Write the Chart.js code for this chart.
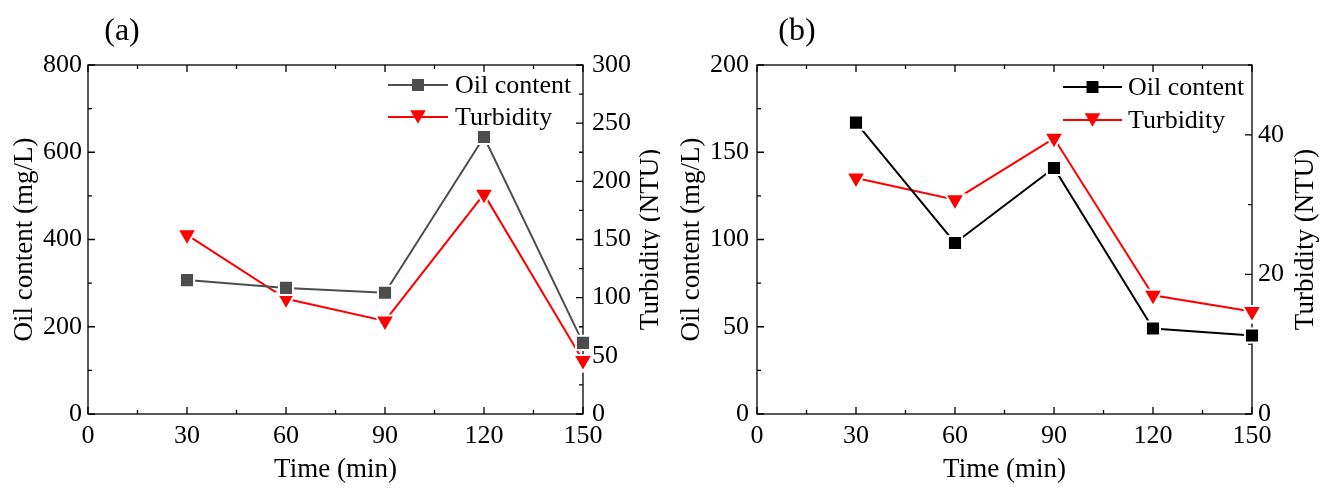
<!DOCTYPE html>
<html>
<head>
<meta charset="utf-8">
<script src="https://cdn.jsdelivr.net/npm/chart.js@4.4.0/dist/chart.umd.min.js"></script>
<style>
  html, body { margin: 0; padding: 0; background: #fff; }
  .row { display: flex; width: 1322px; height: 490px; }
  .panel { position: relative; height: 490px; }
  #panelA { width: 660px; }
  #panelB { width: 662px; }
</style>
</head>
<body>
<div class="row">
  <div class="panel" id="panelA"><canvas id="chartA"></canvas></div>
  <div class="panel" id="panelB"><canvas id="chartB"></canvas></div>
</div>
<script>
// sampling times (min)
const timeMin = [30, 60, 90, 120, 150];

// panel (a)
const oilA = [307, 289, 278, 635, 163];
const turbA = [154, 99, 80, 189, 46];

// panel (b)
const oilB = [167, 98, 141, 49, 45];
const turbB = [33.8, 30.7, 39.5, 17.0, 14.7];

// tick labels
const timeTicks = [0, 30, 60, 90, 120, 150];
const oilTicksA = [0, 200, 400, 600, 800];
const turbTicksA = [0, 50, 100, 150, 200, 250, 300];
const oilTicksB = [0, 50, 100, 150, 200];
const turbTicksB = [0, 20, 40];

const serif = "'Liberation Serif', 'Times New Roman', serif";
const RED = '#ff0000';

function eachTick(scale, step, fn) {
    for (let v = scale.min; v <= scale.max + 1e-9; v += step) {
        const major = scale.ticks.some(t => Math.abs(t.value - v) < 1e-9);
        fn(v, major);
    }
}

function verticalText(ctx, text, x, y) {
    ctx.save();
    ctx.translate(x, y);
    ctx.rotate(-Math.PI / 2);
    ctx.fillText(text, 0, 0);
    ctx.restore();
}

function drawMarker(ctx, ds, x, y) {
    ctx.fillStyle = ds.pointBackgroundColor;
    ctx.beginPath();
    if (ds.pointStyle === 'rect') {
        ctx.rect(x - 6, y - 6, 12, 12);
    } else {
        const h = 13.5, w = 15.6;
        ctx.moveTo(x - w / 2, y - h / 2);
        ctx.lineTo(x + w / 2, y - h / 2);
        ctx.lineTo(x, y + h / 2);
        ctx.closePath();
    }
    ctx.fill();
}

// frame, inward ticks, axis titles, panel tag and the inside legend
const panelDecor = {
    id: 'panelDecor',
    beforeDatasetsDraw(chart, args, o) {
        const {ctx, chartArea: a, scales} = chart;
        ctx.save();
        ctx.strokeStyle = '#000';
        ctx.lineWidth = 1.3;
        ctx.strokeRect(a.left, a.top, a.right - a.left, a.bottom - a.top);
        ctx.beginPath();
        eachTick(scales.x, o.xMinor, (v, major) => {
            const p = scales.x.getPixelForValue(v);
            const l = major ? 7 : 4;
            ctx.moveTo(p, a.bottom); ctx.lineTo(p, a.bottom - l);
            ctx.moveTo(p, a.top); ctx.lineTo(p, a.top + l);
        });
        eachTick(scales.y, o.yMinor, (v, major) => {
            const p = scales.y.getPixelForValue(v);
            ctx.moveTo(a.left, p); ctx.lineTo(a.left + (major ? 7 : 4), p);
        });
        eachTick(scales.y1, o.y1Minor, (v, major) => {
            const p = scales.y1.getPixelForValue(v);
            ctx.moveTo(a.right, p); ctx.lineTo(a.right - (major ? 7 : 4), p);
        });
        ctx.stroke();
        ctx.restore();
    },
    afterDraw(chart, args, o) {
        const {ctx, chartArea: a} = chart;
        const midY = (a.top + a.bottom) / 2;
        ctx.save();
        ctx.fillStyle = '#000';
        ctx.textAlign = 'center';
        ctx.textBaseline = 'middle';
        ctx.font = `27px ${serif}`;
        ctx.fillText(o.xTitle, (a.left + a.right) / 2, o.xTitleY);
        verticalText(ctx, o.yTitle, o.yTitleX, midY);
        verticalText(ctx, o.y1Title, o.y1TitleX, midY);

        ctx.font = `32px ${serif}`;
        ctx.fillText(o.tag, o.tagX, o.tagY);

        const lg = o.legend;
        ctx.font = `26px ${serif}`;
        ctx.textAlign = 'left';
        chart.data.datasets.forEach((ds, i) => {
            const y = lg.y[i];
            ctx.strokeStyle = ds.borderColor;
            ctx.lineWidth = ds.borderWidth;
            ctx.beginPath();
            ctx.moveTo(lg.x0, y);
            ctx.lineTo(lg.x1, y);
            ctx.stroke();
            drawMarker(ctx, ds, (lg.x0 + lg.x1) / 2, y);
            ctx.fillStyle = '#000';
            ctx.fillText(ds.label, lg.textX, y + 1);
        });
        ctx.restore();
    }
};

function series(label, ys, color, style, axis) {
    const tri = style === 'triangle';
    return {
        label: label,
        data: timeMin.map((t, i) => ({x: t, y: ys[i]})),
        yAxisID: axis,
        borderColor: color,
        backgroundColor: color,
        borderWidth: 2,
        tension: 0,
        pointStyle: style,
        pointRotation: tri ? 180 : 0,
        pointRadius: tri ? 11 : 10,
        pointBackgroundColor: color,
        pointBorderColor: '#fff',
        pointBorderWidth: 2,
        clip: false
    };
}

function fixedTicks(values) {
    return scale => { scale.ticks = values.map(v => ({value: v})); };
}

function makePanel(id, cfg) {
    const tickFont = {family: serif, size: 26};
    return new Chart(document.getElementById(id), {
        type: 'line',
        data: {
            datasets: [
                series('Oil content', cfg.oil, cfg.oilColor, 'rect', 'y'),
                series('Turbidity', cfg.turb, RED, 'triangle', 'y1')
            ]
        },
        options: {
            responsive: true,
            maintainAspectRatio: false,
            animation: false,
            events: [],
            layout: {padding: {top: 65, left: 0, right: 0, bottom: 0}},
            plugins: {
                legend: {display: false},
                tooltip: {enabled: false},
                panelDecor: cfg.decor
            },
            scales: {
                x: {
                    type: 'linear',
                    min: 0, max: 150,
                    afterBuildTicks: fixedTicks(timeTicks),
                    afterFit: s => { s.height = 76; },
                    grid: {display: false, drawTicks: false},
                    border: {display: false},
                    ticks: {font: tickFont, color: '#000', padding: 7, autoSkip: false, maxRotation: 0}
                },
                y: {
                    position: 'left',
                    min: 0, max: cfg.oilMax,
                    afterBuildTicks: fixedTicks(cfg.oilTicks),
                    afterFit: s => { s.width = cfg.left; },
                    grid: {display: false, drawTicks: false},
                    border: {display: false},
                    ticks: {font: tickFont, color: '#000', padding: cfg.leftPad}
                },
                y1: {
                    position: 'right',
                    min: 0, max: cfg.turbMax,
                    afterBuildTicks: fixedTicks(cfg.turbTicks),
                    afterFit: s => { s.width = cfg.right; },
                    grid: {display: false, drawTicks: false},
                    border: {display: false},
                    ticks: {font: tickFont, color: '#000', padding: cfg.rightPad}
                }
            }
        },
        plugins: [panelDecor]
    });
}

makePanel('chartA', {
    oil: oilA, turb: turbA, oilColor: '#4d4d4d',
    oilMax: 800, turbMax: 300,
    oilTicks: oilTicksA, turbTicks: turbTicksA,
    left: 88, right: 77, leftPad: 6, rightPad: 9,
    decor: {
        xMinor: 15, yMinor: 100, y1Minor: 25,
        xTitle: 'Time (min)', xTitleY: 470,
        yTitle: 'Oil content (mg/L)', yTitleX: 25,
        y1Title: 'Turbidity (NTU)', y1TitleX: 651,
        tag: '(a)', tagX: 122, tagY: 32,
        legend: {x0: 388, x1: 448, textX: 455, y: [85, 117]}
    }
});

makePanel('chartB', {
    oil: oilB, turb: turbB, oilColor: '#000000',
    oilMax: 200, turbMax: 50,
    oilTicks: oilTicksB, turbTicks: turbTicksB,
    left: 97, right: 70, leftPad: 8, rightPad: 6,
    decor: {
        xMinor: 15, yMinor: 25, y1Minor: 10,
        xTitle: 'Time (min)', xTitleY: 470,
        yTitle: 'Oil content (mg/L)', yTitleX: 32,
        y1Title: 'Turbidity (NTU)', y1TitleX: 646,
        tag: '(b)', tagX: 137, tagY: 32,
        legend: {x0: 403, x1: 462, textX: 468, y: [87, 120]}
    }
});
</script>
</body>
</html>
